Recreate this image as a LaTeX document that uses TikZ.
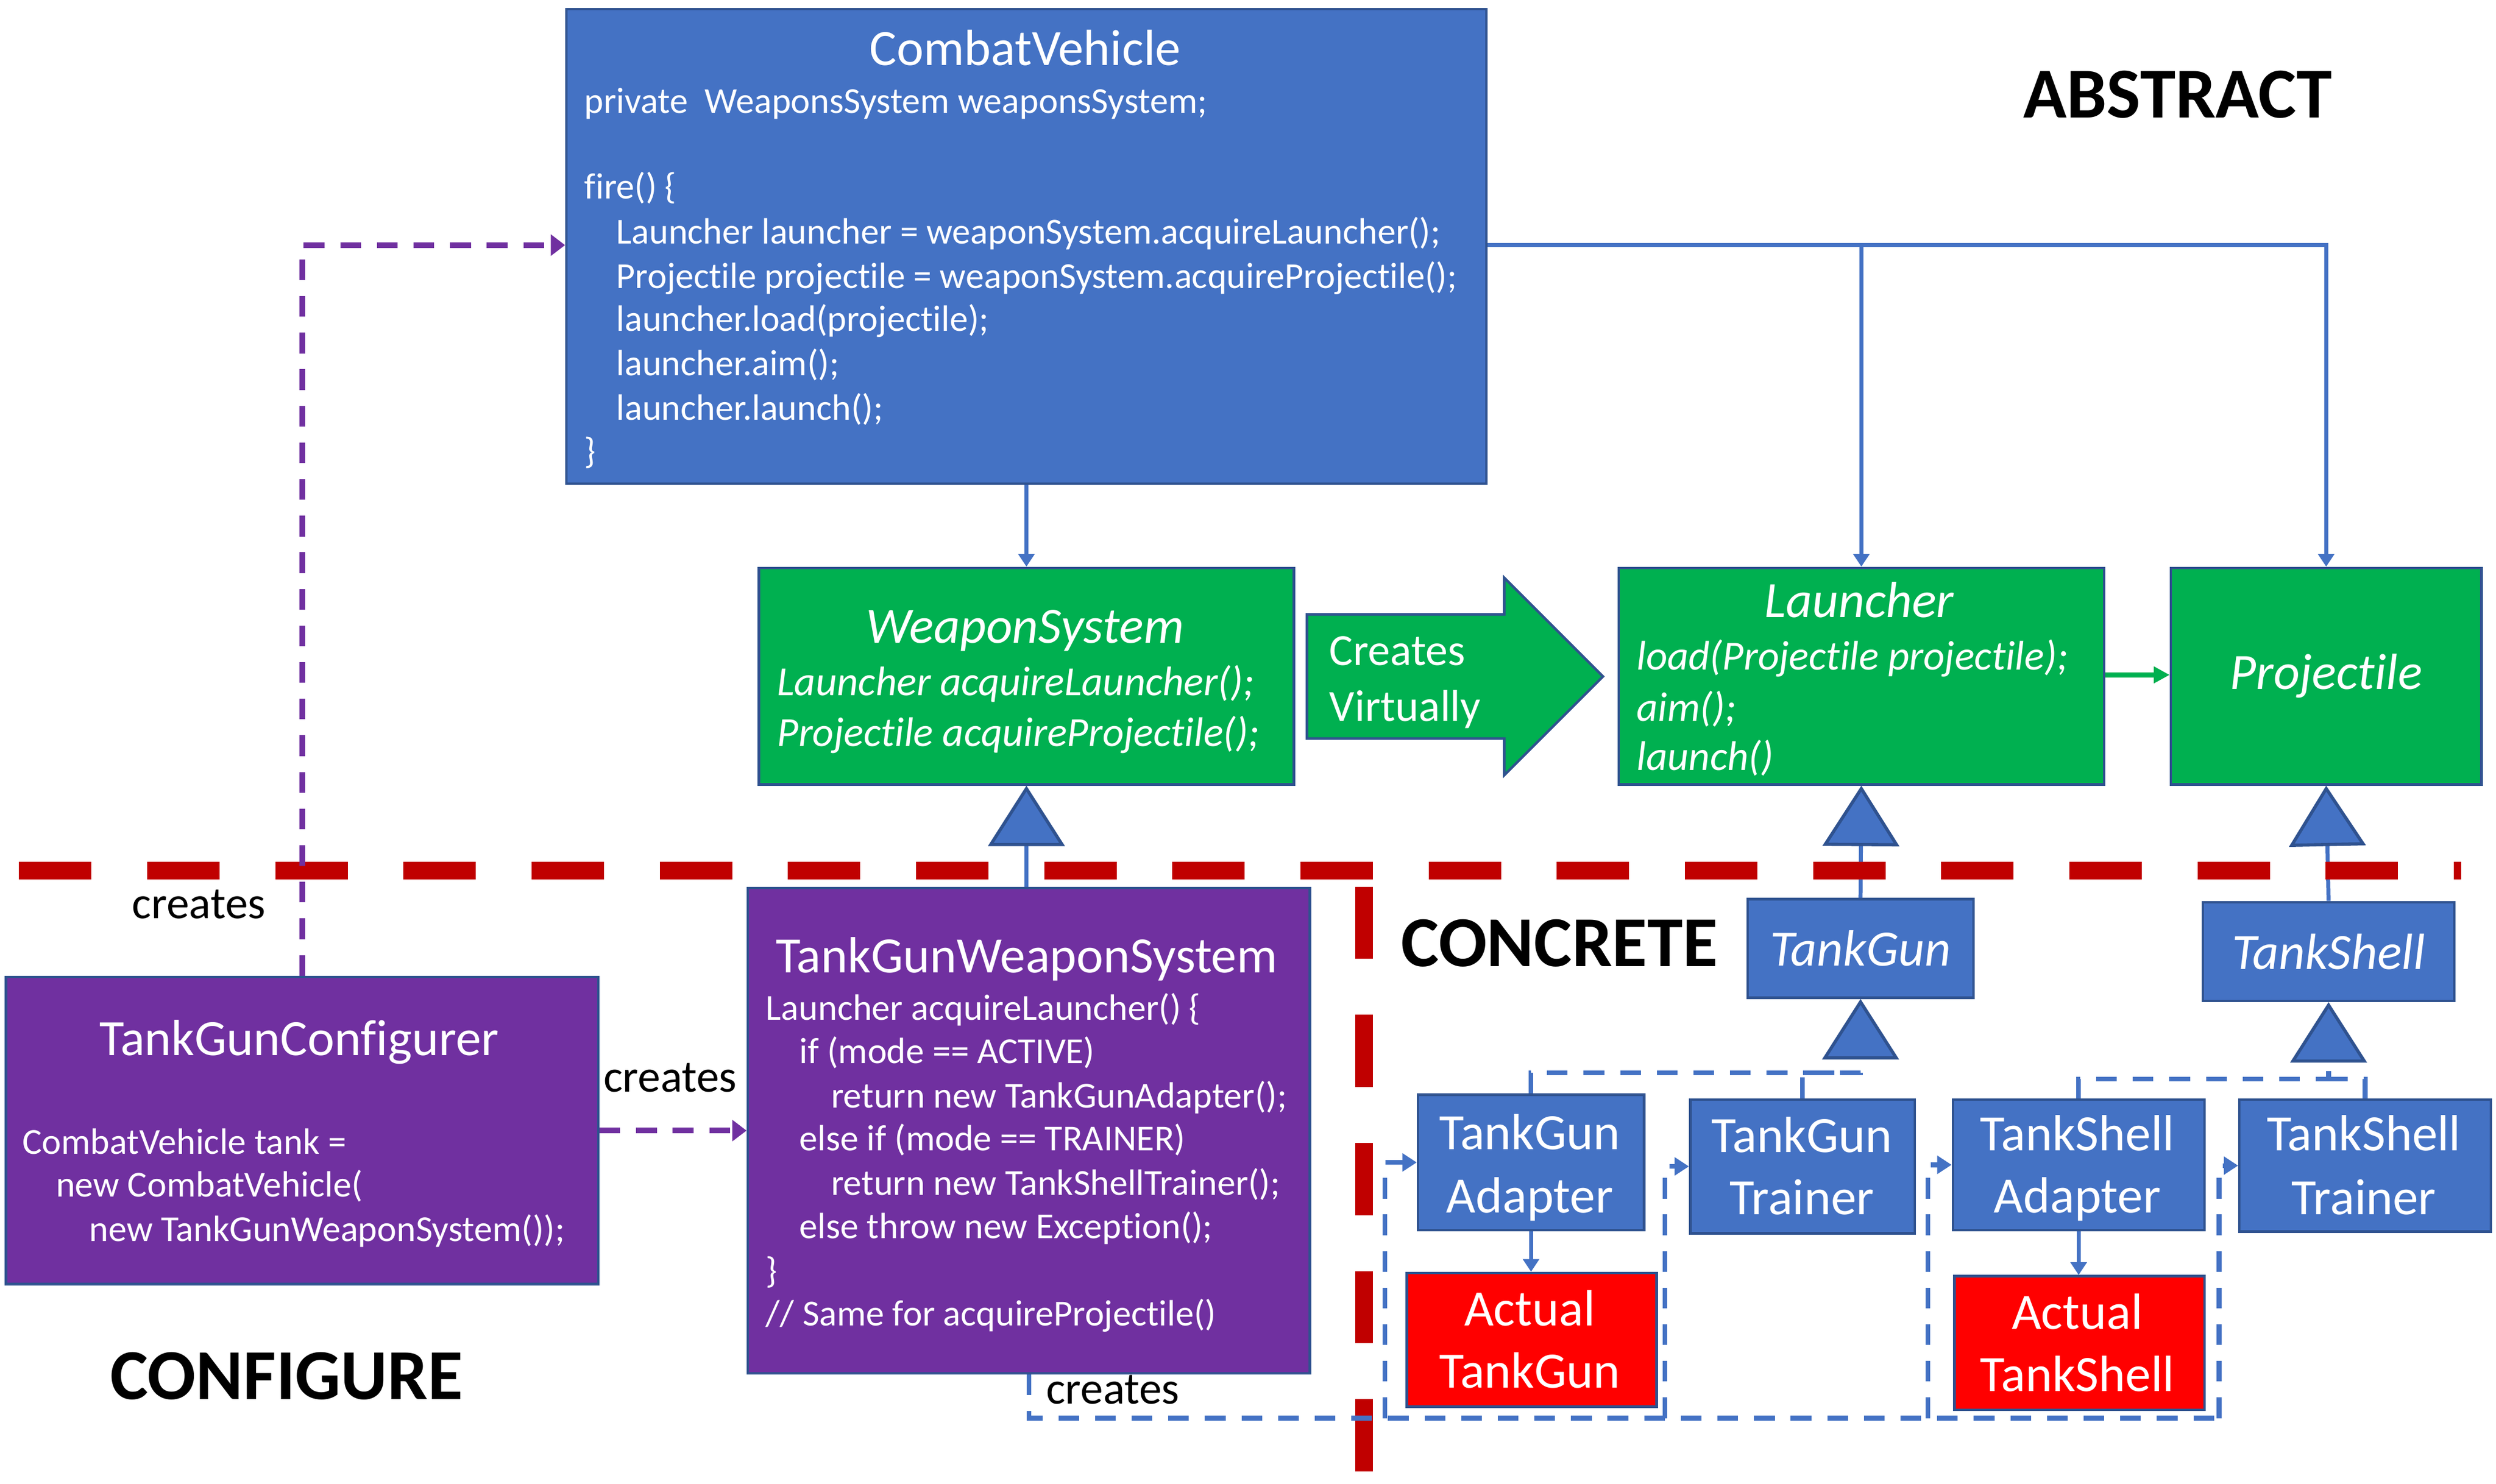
\documentclass[tikz,border=0pt]{standalone}
\usepackage{fontspec}
\setmainfont{Carlito}[Ligatures=NoCommon]
\usetikzlibrary{arrows.meta}
\definecolor{cblue}{HTML}{4472C4}
\definecolor{cbdr}{HTML}{2F528F}
\definecolor{cgreen}{HTML}{00B050}
\definecolor{cpurple}{HTML}{7030A0}
\definecolor{cred}{HTML}{FF0000}
\definecolor{cdred}{HTML}{C00000}
\begin{document}
\begin{tikzpicture}[x=1pt,y=-1pt,
  box/.style={draw=cbdr, line width=1.6pt, inner sep=0pt, text=white, align=center, anchor=north west},
  code/.style={text=white, inner sep=0pt, anchor=base west, font=\fontsize{23}{27}\selectfont},
  gcode/.style={text=white, inner sep=0pt, anchor=base west, font=\fontsize{26}{31}\selectfont\itshape},
  ttl/.style={text=white, inner sep=0pt, anchor=base, font=\fontsize{32}{38}\selectfont},
  two/.style={text=white, inner sep=0pt, anchor=base, font=\fontsize{32}{38}\selectfont},
  bigword/.style={inner sep=0pt, anchor=base, font=\fontsize{45}{54}\selectfont\bfseries},
  lbl/.style={inner sep=0pt, anchor=base, font=\fontsize{28.5}{34}\selectfont},
  conn/.style={draw=cblue, line width=2.5pt, -{Triangle[width=10pt,length=8pt]}},
  inh/.style={-{Triangle[width=48pt,length=38pt,fill=cblue,color=cbdr,line width=2pt]}},
  bline/.style={draw=cblue, line width=2.5pt},
  bdash/.style={draw=cblue, line width=3pt, dash pattern=on 13pt off 10pt},
  pdash/.style={draw=cpurple, line width=3.5pt, dash pattern=on 13pt off 10pt},
  smalltip/.style={-{Triangle[width=11pt,length=9pt]}},
  ptip/.style={-{Triangle[width=13pt,length=9pt]}},
  reddash/.style={draw=cdred, line width=11pt, dash pattern=on 45.5pt off 35pt}
]
\useasboundingbox[fill=white] (0,0) rectangle (1568,932);

% ---------- boxes (positions) ----------
\node[box, fill=cblue, minimum width=578pt, minimum height=298pt] (cv) at (355,5) {};
\node[box, fill=cgreen, minimum width=336pt, minimum height=136pt] (ws) at (476,356) {};
\node[box, fill=cgreen, minimum width=305pt, minimum height=136pt] (la) at (1016,356) {};
\node[box, fill=cgreen, minimum width=195pt, minimum height=136pt, font=\fontsize{32}{38}\selectfont\itshape] (pr) at (1363,356) {Projectile};
\node[box, fill=cpurple, minimum width=353pt, minimum height=305pt] (tgws) at (469,557) {};
\node[box, fill=cpurple, minimum width=372pt, minimum height=193pt] (tgc) at (3,613) {};
\node[box, fill=cblue, minimum width=142pt, minimum height=62pt, font=\fontsize{32}{38}\selectfont\itshape] (tg) at (1097,564) {TankGun};
\node[box, fill=cblue, minimum width=158pt, minimum height=62pt, font=\fontsize{32}{38}\selectfont\itshape] (ts) at (1383,566) {TankShell};
\node[box, fill=cblue, minimum width=142pt, minimum height=85pt] (tga) at (890,687) {};
\node[box, fill=cblue, minimum width=141pt, minimum height=84pt] (tgt) at (1061,690) {};
\node[box, fill=cblue, minimum width=158pt, minimum height=82pt] (tsa) at (1226,690) {};
\node[box, fill=cblue, minimum width=158pt, minimum height=83pt] (tst) at (1406,690) {};
\node[box, fill=cred, minimum width=157pt, minimum height=84pt] (atg) at (883,799) {};
\node[box, fill=cred, minimum width=157pt, minimum height=84pt] (ats) at (1227,801) {};

% two-line box texts
\node[two] (tga1) at (961,722) {TankGun};
\node[two] (tga2) at (961,762) {Adapter};
\node[two] (tgt1) at (1132,724) {TankGun};
\node[two] (tgt2) at (1132,763) {Trainer};
\node[two] (tsa1) at (1305,723) {TankShell};
\node[two] (tsa2) at (1305,762) {Adapter};
\node[two] (tst1) at (1485,723) {TankShell};
\node[two] (tst2) at (1485,763) {Trainer};
\node[two] (atg1) at (961,833) {Actual};
\node[two] (atg2) at (961,872) {TankGun};
\node[two] (ats1) at (1305,835) {Actual};
\node[two] (ats2) at (1305,874) {TankShell};

% ---------- connectors under the red lines ----------
\draw[conn] (cv.south -| ws.north) -- (ws.north);
\coordinate (jl) at (la.north |- 0,154);
\coordinate (jp) at (pr.north |- 0,154);
\draw[conn] (cv.east |- jl) -| (la.north);
\draw[conn] (jl) -| (pr.north);
\draw[draw=cgreen, line width=3pt, -{Triangle[width=10pt,length=10pt]}] (la.east |- 0,424) -- (pr.west |- 0,424);
\draw[bline, inh] (tgws.north -| ws.south) -- (ws.south);
\draw[bline, inh] (tg.north) -- (la.south);
\draw[bline, inh] (ts.north) -- (pr.south);
\coordinate (k1) at (tg.south |- 0,674);
\coordinate (k2) at (ts.south |- 0,678);
\draw[bdash, inh] (tga.north) |- (k1) -- (tg.south);
\draw[bdash] (tgt.north) |- (k1);
\draw[bdash, inh] (tsa.north) |- (k2) -- (ts.south);
\draw[bdash] (tst.north) |- (k2);
\draw[conn] (tga.south) -- (tga.south |- atg.north);
\draw[conn] (tsa.south) -- (tsa.south |- ats.north);

% ---------- red separators ----------
\coordinate (rh1) at (12,547);
\coordinate (rh2) at (1546,547);
\coordinate (rv1) at (857,557);
\coordinate (rv2) at (857,926);
\draw[reddash] (rh1) -- (rh2);
\draw[reddash] (rv1) -- (rv2);

% ---------- creates connectors ----------
\draw[pdash, ptip] (tgc.north) |- (cv.west |- 0,154);
\draw[pdash, ptip] (tgc.east) -- (tgws.west |- tgc.east);
\coordinate (bl) at (tgws.south |- 0,891);
\coordinate (b1) at (870,891);
\coordinate (b2) at (1046,891);
\coordinate (b3) at (1211,891);
\coordinate (b4) at (1394,891);
\draw[bdash] (tgws.south) -- (bl) -- (b4);
\draw[bdash, smalltip] (b1) |- (tga.west);
\draw[bdash, smalltip] (b2) |- (tgt.west);
\draw[bdash, smalltip] (b3) |- (tsa.west);
\draw[bdash, smalltip] (b4) |- (tst.west);

% ---------- Creates Virtually arrow ----------
\path[fill=cgreen, draw=cbdr, line width=1.6pt] (821,386) -- (945,386) -- (945,363) -- (1007,425) -- (945,487) -- (945,464) -- (821,464) -- cycle;
\node[text=white, inner sep=0pt, anchor=base west, font=\fontsize{28}{34}\selectfont] (cr1) at (835,418) {Creates};
\node[text=white, inner sep=0pt, anchor=base west, font=\fontsize{28}{34}\selectfont] (cr2) at (835,453) {Virtually};

% ---------- texts ----------
\node[ttl] (cvt) at (644,41) {CombatVehicle};
\node[code] (cv1) at (367,71) {private\ \ WeaponsSystem weaponsSystem;};
\node[code] (cv2) at (367,125) {fire() \{};
\node[code] (cv3) at (387,153) {Launcher launcher = weaponSystem.acquireLauncher();};
\node[code] (cv4) at (387,181) {Projectile projectile = weaponSystem.acquireProjectile();};
\node[code] (cv5) at (387,208) {launcher.load(projectile);};
\node[code] (cv6) at (387,236) {launcher.aim();};
\node[code] (cv7) at (387,264) {launcher.launch();};
\node[code] (cv8) at (367,291) {\}};

\node[bigword] (abs) at (1368,74) {ABSTRACT};
\node[bigword, anchor=base west] (con) at (880,607) {CONCRETE};
\node[bigword] (cfg) at (180,879) {CONFIGURE};

\node[ttl, font=\fontsize{32}{38}\selectfont\itshape] (wst) at (644,404) {WeaponSystem};
\node[gcode] (ws1) at (488,437) {Launcher acquireLauncher();};
\node[gcode] (ws2) at (488,469) {Projectile acquireProjectile();};

\node[ttl, font=\fontsize{32}{38}\selectfont\itshape] (lat) at (1168,388) {Launcher};
\node[gcode] (la1) at (1028,421) {load(Projectile projectile);};
\node[gcode] (la2) at (1028,453) {aim();};
\node[gcode] (la3) at (1028,484) {launch()};

\node[ttl] (tgwst) at (645,611) {TankGunWeaponSystem};
\node[code] (w1) at (481,641) {Launcher acquireLauncher() \{};
\node[code] (w2) at (502,668) {if (mode == ACTIVE)};
\node[code] (w3) at (522,696) {return new TankGunAdapter();};
\node[code] (w4) at (502,723) {else if (mode == TRAINER)};
\node[code] (w5) at (522,751) {return new TankShellTrainer();};
\node[code] (w6) at (502,778) {else throw new Exception();};
\node[code] (w7) at (481,806) {\}};
\node[code] (w8) at (481,833) {// Same for acquireProjectile()};

\node[ttl] (tgct) at (188,663) {TankGunConfigurer};
\node[code] (c1) at (14,725) {CombatVehicle tank =};
\node[code] (c2) at (35,752) {new CombatVehicle(};
\node[code] (c3) at (56,780) {new TankGunWeaponSystem());};

\node[lbl] (lc1) at (125,577) {creates};
\node[lbl] (lc2) at (421,686) {creates};
\node[lbl, anchor=base west] (lc3) at (657,882) {creates};
\end{tikzpicture}
\end{document}
